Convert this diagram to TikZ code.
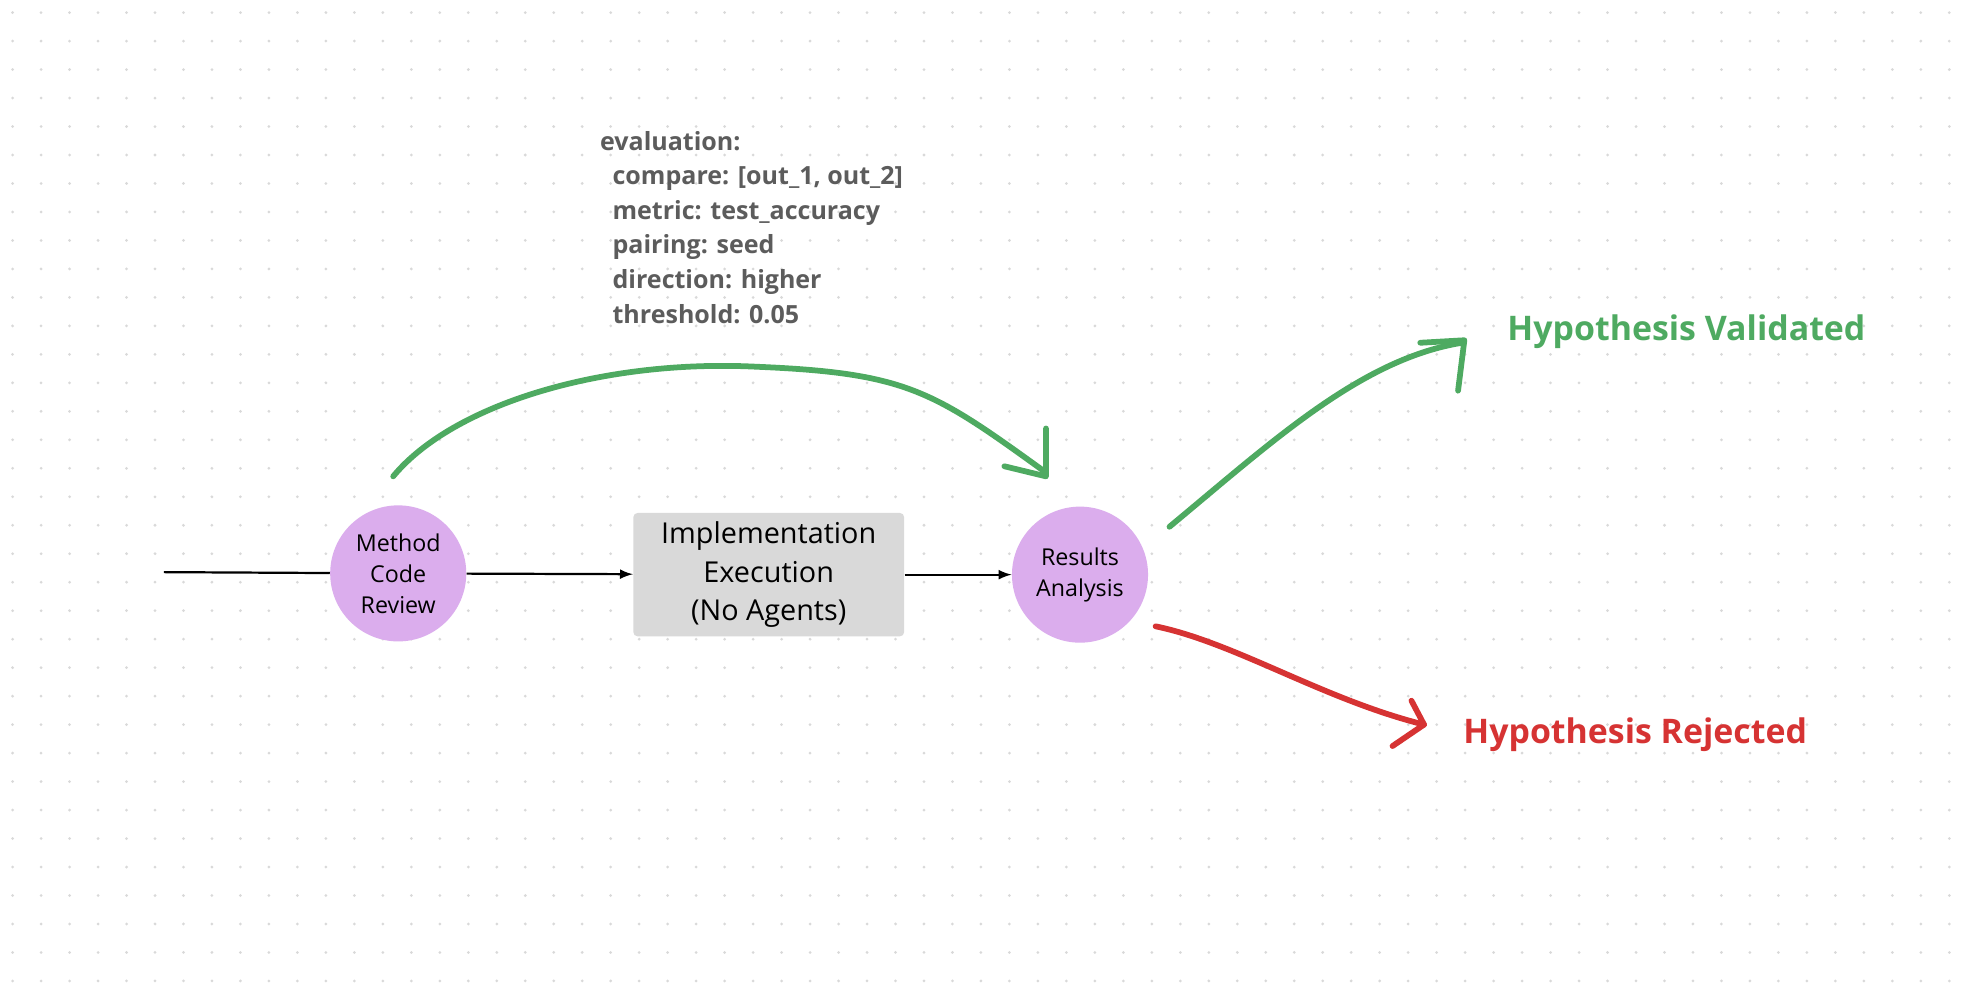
\documentclass[tikz,border=0pt]{standalone}
\usepackage{fontspec}
\setmainfont{Open Sans}
\begin{document}
\begin{tikzpicture}[x=0.02cm,y=-0.02cm,
  circ/.style={circle,minimum size=2.16cm,inner sep=0pt,align=center,font=\fontsize{10.5}{14}\selectfont},
  conn/.style={line width=1pt,-latex},
  grn/.style={line width=2.6pt,line cap=round,line join=round},
  red/.style={line width=2.6pt,line cap=round,line join=round}]
\definecolor{cpurp}{HTML}{DBADED}
\definecolor{cgreen}{HTML}{4EAA61}
\definecolor{cred}{HTML}{D63333}
\useasboundingbox (0,0) rectangle (1568,790);
\fill[white] (0,0) rectangle (1568,790);
\foreach \i in {0,...,69}{\foreach \j in {0,...,34}{\fill[gray!30] (10+22.6*\i,10+22.6*\j) circle (1.2);}}
\node[circ,fill=cpurp] (m) at (316,455) {Method\\Code\\Review};
\node[circ,fill=cpurp] (r) at (857,456) {Results\\Analysis};
\node[fill=gray!30,rounded corners=2pt,minimum width=4.3cm,minimum height=1.96cm,align=center,font=\fontsize{13}{17.5}\selectfont] (b) at (610,456) {Implementation\\Execution\\(No Agents)};
\coordinate (s) at (130,454);
\draw[line width=1pt] (s) -- (m);
\draw[conn] (m) -- (b);
\draw[conn] (b) -- (r);
\node[anchor=north west,align=left,text=gray!30!black!75,font=\bfseries\fontsize{11.3}{15.6}\selectfont] (code) at (470,98)
 {evaluation:\\\hspace*{0.5em}compare: [out\_1, out\_2]\\\hspace*{0.5em}metric: test\_accuracy\\\hspace*{0.5em}pairing: seed\\\hspace*{0.5em}direction: higher\\\hspace*{0.5em}threshold: 0.05};
\node[anchor=west,text=cgreen,font=\bfseries\fontsize{15.3}{19}\selectfont] (hv) at (1190,263) {Hypothesis Validated};
\node[anchor=west,text=cred,font=\bfseries\fontsize{15.3}{19}\selectfont] (hr) at (1155,583) {Hypothesis Rejected};
\draw[grn,draw=cgreen] (312,378) .. controls (360,320) and (480,285) .. (600,291) .. controls (720,296) and (740,310) .. (830,375);
\draw[grn,draw=cgreen] (830,340) -- (830,378) -- (797,370);
\draw[grn,draw=cgreen] (928,418) .. controls (1010,350) and (1080,285) .. (1160,272);
\draw[grn,draw=cgreen] (1127,272) -- (1162,270) -- (1157,310);
\draw[red,draw=cred] (917,497) .. controls (980,510) and (1050,555) .. (1130,575);
\draw[red,draw=cred] (1120,556) -- (1130,575) -- (1105,592);
\end{tikzpicture}
\end{document}
